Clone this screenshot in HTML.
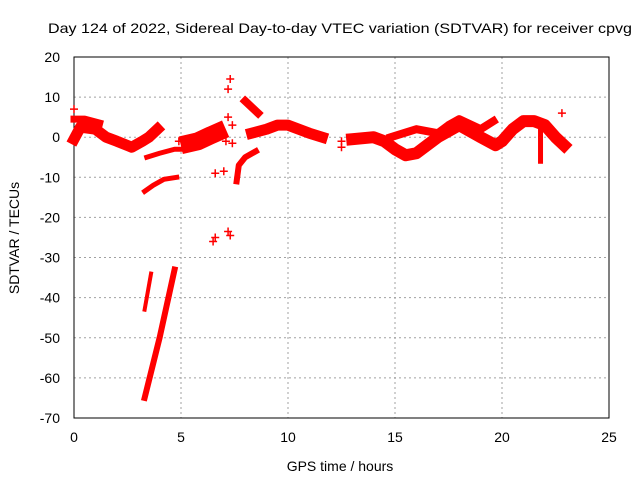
<!DOCTYPE html>
<html><head><meta charset="utf-8"><style>
body{margin:0;background:#fff;}
svg text{font-family:"Liberation Sans",sans-serif;font-size:14px;fill:#000;}
</style></head><body>
<svg id="chart" width="640" height="480" viewBox="0 0 640 480"></svg>
<script>
const xTicks=[0,5,10,15,20,25];
const yTicks=[20,10,0,-10,-20,-30,-40,-50,-60,-70];
const trackMain=[[0,-0.5],[0.3,2.5],[1,2],[1.5,0],[2,-1],[2.7,-2.5],[3.2,-1],[3.5,0],[3.9,2]];
const trackTop=[[0,4.5],[0.5,4.5],[1.2,3.5]];
const trackLow=[[3.4,-5],[4,-4],[4.7,-3],[5,-3]];
const trackMid=[[3.3,-13.5],[3.7,-12],[4.2,-10.5],[4.8,-10]];
const trackSteepA=[[3.3,-43],[3.6,-34]];
const trackSteepB=[[3.3,-65],[4.0,-50],[4.7,-33]];
const trackBlob=[[5.4,-1.5],[5.8,-1],[6.4,0.5],[6.7,1.2]];
const trackF1=[[8.0,9],[8.3,7.5],[8.6,6]];
const trackF2=[[7.6,-11],[7.7,-7],[8.0,-5],[8.5,-3.5]];
const trackG=[[8.3,1],[9,2],[9.5,3],[10,3],[11,1],[11.6,0]];
const trackR=[[13,-0.5],[14,0],[14.5,-1],[15,-3],[15.5,-4.5],[16,-4],[16.5,-2],[17,0],[18,3],[18.5,1.5],[19,0],[19.7,-2],[20,-1],[20.5,2],[21,4],[21.5,4],[22,3],[22.5,0],[22.9,-2]];
const trackR2=[[14.8,0],[16,2],[17,1],[17.5,3],[18,4.5],[19,2],[19.6,4]];
const trackSpike=[[21.8,3],[21.8,-6]];
const isoX=[0,4.9,6.6,6.6,6.5,7.2,7.3,7.2,7.4,7.1,7.0,7.2,7.3,7.4,12.5,12.5,22.8,3.2];
const isoY=[7,-1,-9,-25,-26,12,14.5,5,3,-1,-8.5,-23.5,-24.5,-1.5,-1,-2.5,6,-1];
const X=v=>74+v*21.4, Y=v=>137.2-v*4.011;
const svg=document.getElementById('chart');const NS='http://www.w3.org/2000/svg';
function mk(t,a){const e=document.createElementNS(NS,t);for(const k in a)e.setAttribute(k,a[k]);svg.appendChild(e);return e;}
xTicks.forEach(t=>{const l=mk('line',{x1:X(t),x2:X(t),y1:57,y2:418,stroke:'#a0a0a0','stroke-dasharray':'2,3'});


const s=mk('text',{x:X(t),y:442,'text-anchor':'middle'});s.textContent=t;

});
yTicks.forEach(t=>{const l=mk('line',{x1:74,x2:609,y1:Y(t),y2:Y(t),stroke:'#a0a0a0','stroke-dasharray':'2,3'});


const s=mk('text',{x:60,y:Y(t)+5,'text-anchor':'end'});s.textContent=t;

});
const fr=mk('rect',{x:74,y:57,width:535,height:361,fill:'none',stroke:'#000'});


function track(pts,w){const p=mk('polyline',{points:pts.map(q=>X(q[0])+','+Y(q[1])).join(' '),fill:'none',stroke:'#f00','stroke-width':w,'stroke-linejoin':'round','stroke-linecap':'square'});

}
track(trackMain,11);track(trackTop,7);track(trackLow,5);track(trackMid,5);track(trackSteepA,4);track(trackSteepB,6);
track(trackBlob,18);track(trackF1,8);track(trackF2,6);track(trackG,11);track(trackR,12);track(trackR2,8);track(trackSpike,5);
isoX.forEach((x,i)=>{const cx=X(x),cy=Y(isoY[i]);const p=mk('path',{d:`M${cx-4},${cy}h8M${cx},${cy-4}v8`,stroke:'#f00','stroke-width':1.5});

});
const t=mk('text',{x:340,y:33,'text-anchor':'middle',textLength:584,lengthAdjust:'spacingAndGlyphs'});t.textContent='Day 124 of 2022, Sidereal Day-to-day VTEC variation (SDTVAR) for receiver cpvg';


const xl=mk('text',{x:340,y:471,'text-anchor':'middle'});xl.textContent='GPS time / hours';


const yl=mk('text',{x:0,y:0,'text-anchor':'middle',transform:'translate(19,238) rotate(-90)'});yl.textContent='SDTVAR / TECUs';


</script>
</body></html>
